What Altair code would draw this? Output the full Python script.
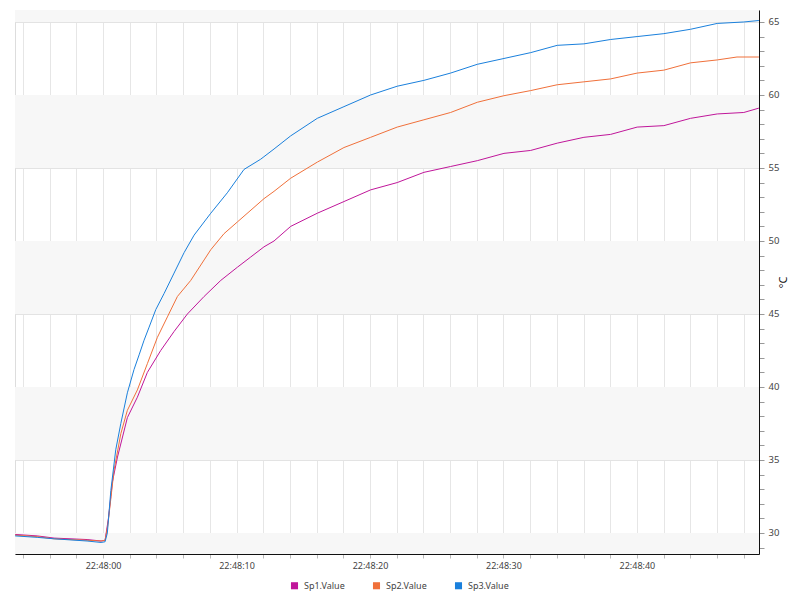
import altair as alt
import pandas as pd

# seconds relative to 22:48:00
sp1_t = [-6.59, -4.94, -3.67, -1.2, -0.15, 0.15, 0.4, 0.7, 1.08, 1.82, 2.57, 3.32, 4.32, 5.32, 6.32,
         7.57, 8.82, 10.06, 11.06, 12.06, 12.81, 14.06, 16.05, 18.05, 20.05, 22.04, 24.04, 26.04,
         28.04, 30.04, 32.04, 34.03, 36.03, 38.03, 40.02, 42.02, 44.02, 46.02, 48.01, 49.14]
sp1_v = [29.9, 29.8, 29.65, 29.55, 29.45, 29.5, 31.0, 33.5, 35.2, 37.9, 39.3, 41.0, 42.5, 43.8, 45.0,
         46.2, 47.3, 48.2, 48.9, 49.6, 50.0, 51.0, 51.9, 52.7, 53.5, 54.0, 54.7, 55.1,
         55.5, 56.0, 56.2, 56.7, 57.1, 57.3, 57.8, 57.9, 58.4, 58.7, 58.8, 59.1]

sp2_t = [-6.59, -4.94, -3.67, -1.2, -0.15, 0.15, 0.35, 0.6, 0.82, 1.33, 1.82, 2.57, 3.32, 4.07, 4.82,
         5.57, 6.57, 7.57, 8.07, 9.06, 10.06, 11.31, 12.06, 12.81, 14.06, 16.05, 18.05, 20.05,
         22.04, 24.04, 26.04, 28.04, 30.04, 32.04, 34.03, 36.03, 38.03, 40.02, 42.02, 44.02,
         46.02, 47.5, 49.14]
sp2_v = [29.85, 29.75, 29.6, 29.5, 29.45, 29.5, 30.5, 32.5, 34.3, 36.8, 38.4, 39.8, 41.6, 43.4, 44.8,
         46.2, 47.3, 48.7, 49.4, 50.5, 51.3, 52.3, 52.9, 53.4, 54.3, 55.4, 56.4, 57.1,
         57.8, 58.3, 58.8, 59.5, 59.95, 60.3, 60.7, 60.9, 61.1, 61.5, 61.7, 62.2,
         62.4, 62.6, 62.6]

sp3_t = [-6.59, -4.94, -3.67, -1.2, -0.15, 0.15, 0.32, 0.58, 0.95, 1.33, 1.82, 2.32, 2.7, 3.07, 3.45,
         3.95, 4.57, 5.32, 6.07, 6.82, 8.07, 9.31, 10.56, 11.81, 12.81, 14.06, 16.05, 18.05,
         20.05, 22.04, 24.04, 26.04, 28.04, 30.04, 32.04, 34.03, 36.03, 38.03, 40.02, 42.02,
         44.02, 46.02, 48.01, 49.14]
sp3_v = [29.8, 29.7, 29.6, 29.45, 29.35, 29.4, 30.0, 32.9, 35.7, 37.5, 39.6, 41.2, 42.2, 43.2, 44.1,
         45.3, 46.4, 47.8, 49.2, 50.4, 51.9, 53.3, 54.9, 55.6, 56.3, 57.2, 58.4, 59.2,
         60.0, 60.6, 61.0, 61.5, 62.1, 62.5, 62.9, 63.4, 63.5, 63.8, 64.0, 64.2,
         64.5, 64.9, 65.0, 65.1]

series_names = ["Sp1.Value", "Sp2.Value", "Sp3.Value"]
series_colors = ["#c0169a", "#f0703a", "#1a80dc"]

x_tick_values = [0, 10, 20, 30, 40]
x_tick_labels = ["22:48:00", "22:48:10", "22:48:20", "22:48:30", "22:48:40"]
x_grid_values = list(range(-6, 50, 2))
y_tick_values = [30, 35, 40, 45, 50, 55, 60, 65]
y_minor_values = list(range(29, 66))

x_domain = [-6.6, 49.15]
y_domain = [28.56, 65.82]

band_lo = [65, 55, 45, 35, 28.56]
band_hi = [65.82, 60, 50, 40, 30]

frames = []
for name, ts, vs in [(series_names[0], sp1_t, sp1_v), (series_names[1], sp2_t, sp2_v),
                     (series_names[2], sp3_t, sp3_v)]:
    frames.append(pd.DataFrame({"t": ts, "v": vs, "series": name, "legend": name}))
df = pd.concat(frames, ignore_index=True)
bands_df = pd.DataFrame({"lo": band_lo, "hi": band_hi})

FONT = "Noto Sans"
xs = alt.Scale(domain=x_domain, nice=False, zero=False)
ys = alt.Scale(domain=y_domain, nice=False, zero=False)

label_expr = (
    "indexof(" + str(x_tick_values) + ", datum.value) >= 0 ? "
    + str(x_tick_labels) + "[indexof(" + str(x_tick_values) + ", datum.value)] : ''"
)

x_axis = alt.Axis(values=x_grid_values, labelExpr=label_expr, title=None, grid=True,
                  gridColor="#e6e6e6", tickColor="#bbbbbb", tickSize=4, domainColor="#111111",
                  labelFont=FONT, labelFontSize=9, labelColor="#444444", labelPadding=3,
                  labelFlush=False, labelOverlap=False)

y_axis = alt.Axis(orient="right", values=y_minor_values, title="°C", grid=True,
                  gridColor="#e3e3e3",
                  gridOpacity={"condition": {"test": "datum.value % 5 === 0", "value": 1}, "value": 0},
                  labelExpr="datum.value % 5 === 0 ? datum.value : ''",
                  tickSize=5, tickColor="#999999", domainColor="#111111",
                  labelFont=FONT, labelFontSize=9.5, labelColor="#444444", labelPadding=4,
                  titleFont=FONT, titleFontSize=11, titleFontWeight="normal", titleColor="#111111",
                  titleAngle=270, titlePadding=10, labelFlush=False, labelOverlap=False)

bands = alt.Chart(bands_df).mark_rect(color="#f7f7f7", clip=True).encode(
    y=alt.Y("lo:Q", scale=ys, axis=y_axis),
    y2="hi:Q",
)

lines = alt.Chart(df).mark_line(strokeWidth=1, clip=True).encode(
    x=alt.X("t:Q", scale=xs, axis=x_axis),
    y=alt.Y("v:Q", scale=ys, axis=y_axis),
    stroke=alt.Stroke("series:N", scale=alt.Scale(domain=series_names, range=series_colors),
                      legend=None),
)

legend_pts = alt.Chart(df).mark_square(opacity=0, size=40).encode(
    x=alt.X("t:Q", scale=xs, axis=x_axis),
    y=alt.Y("v:Q", scale=ys, axis=y_axis),
    fill=alt.Fill("legend:N", scale=alt.Scale(domain=series_names, range=series_colors),
                  legend=alt.Legend(
                      orient="none", legendX=275, legendY=571, direction="horizontal",
                      title=None, symbolType="square",
                      symbolSize=50, symbolOpacity=1, symbolStrokeWidth=0, labelFont=FONT,
                      labelFontSize=9, labelColor="#444444", columnPadding=27, labelOffset=5)),
)

chart = alt.layer(bands, lines, legend_pts).resolve_scale(fill="independent", stroke="independent").properties(
    width=744, height=544,
    padding={"left": 3, "top": 2, "right": 0, "bottom": 0},
).configure_view(stroke="#111111", strokeWidth=1).configure(background="white")

chart.save("out.html", embed_options={"renderer": "svg", "actions": False})
